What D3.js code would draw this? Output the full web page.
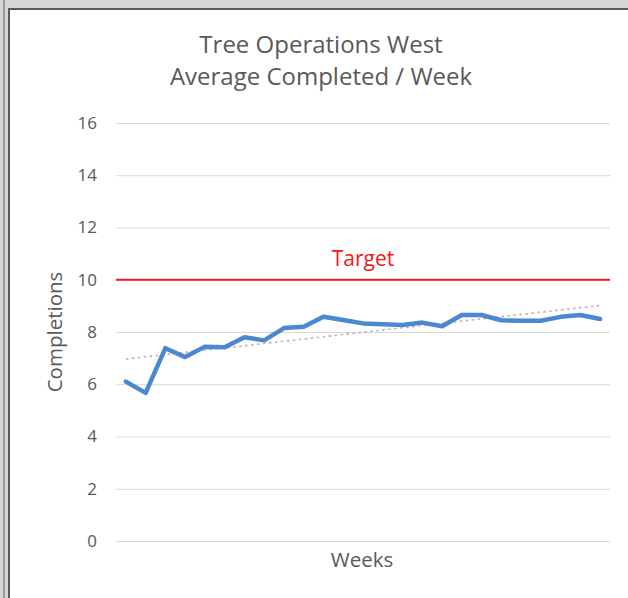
<!DOCTYPE html>
<html>
<head>
<meta charset="utf-8">
<script src="https://cdn.jsdelivr.net/npm/d3@7"></script>
<style>
    body { margin: 0; background: #fff; }
    #chart { width: 628px; height: 598px; }
    text { font-family: "Open Sans", "Noto Sans", sans-serif; fill: #595959; }
</style>
</head>
<body>
<div id="chart"></div>
<script>
(function () {

    const TITLE = ["Tree Operations West", "Average Completed / Week"];
    const WEEKS = d3.range(1, 26);
    const AVERAGE = [6.1, 5.67, 7.38, 7.04, 7.44, 7.42, 7.8, 7.68, 8.15, 8.2, 8.58, 8.46, 8.33, 8.3, 8.27, 8.36, 8.22, 8.65, 8.65, 8.45, 8.43, 8.43, 8.58, 8.65, 8.5];
    const TARGET = 10;
    const Y_TICKS = [0, 2, 4, 6, 8, 10, 12, 14, 16];

    const width = 628, height = 598;
    const plot = { left: 116, right: 610, top: 123, bottom: 541 };

    const svg = d3.select("#chart")
        .append("svg")
        .attr("width", width)
        .attr("height", height);

    // window frame from the screenshot
    svg.append("rect").attr("x", 0).attr("y", 0).attr("width", width).attr("height", 8).attr("fill", "#d6d6d6");
    svg.append("rect").attr("x", 0).attr("y", 0).attr("width", 8).attr("height", height).attr("fill", "#d6d6d6");
    svg.append("rect").attr("x", 3).attr("y", 0).attr("width", 2).attr("height", height).attr("fill", "#9a9a9a");
    svg.append("rect").attr("x", 8).attr("y", 8).attr("width", width).attr("height", 2).attr("fill", "#5a5a5a");
    svg.append("rect").attr("x", 8).attr("y", 8).attr("width", 2).attr("height", height).attr("fill", "#5a5a5a");

    const xScale = d3.scalePoint()
        .domain(WEEKS)
        .range([plot.left, plot.right])
        .padding(0.5);

    const yScale = d3.scaleLinear()
        .domain([0, 16])
        .range([plot.bottom, plot.top]);

    // gridlines + tick labels
    const yAxis = svg.append("g")
        .attr("transform", `translate(${plot.left},0)`)
        .call(d3.axisLeft(yScale)
            .tickValues(Y_TICKS)
            .tickSize(-(plot.right - plot.left))
            .tickPadding(19));
    yAxis.select(".domain").remove();
    yAxis.selectAll(".tick line").attr("stroke", "#d9d9d9").attr("stroke-width", 1);
    yAxis.selectAll(".tick text")
        .style("fill", "#595959")
        .style("font-size", "17px");

    // linear trendline (least squares over the weekly averages)
    const n = AVERAGE.length;
    const mx = d3.mean(WEEKS), my = d3.mean(AVERAGE);
    const slope = d3.sum(WEEKS, (w, i) => (w - mx) * (AVERAGE[i] - my)) / d3.sum(WEEKS, w => (w - mx) ** 2);
    const icpt = my - slope * mx;
    svg.append("line")
        .attr("x1", xScale(WEEKS[0]))
        .attr("y1", yScale(icpt + slope * WEEKS[0]))
        .attr("x2", xScale(WEEKS[n - 1]))
        .attr("y2", yScale(icpt + slope * WEEKS[n - 1]))
        .attr("stroke", "#cfa3b8")
        .attr("stroke-width", 1.6)
        .attr("stroke-dasharray", "2.5,3.5");

    // target line
    svg.append("line")
        .attr("x1", plot.left)
        .attr("x2", plot.right)
        .attr("y1", yScale(TARGET))
        .attr("y2", yScale(TARGET))
        .attr("stroke", "#f01820")
        .attr("stroke-width", 2);

    svg.append("text")
        .attr("x", (plot.left + plot.right) / 2)
        .attr("y", yScale(TARGET) - 14)
        .attr("text-anchor", "middle")
        .style("fill", "#f01820")
        .style("font-size", "21px")
        .text("Target");

    // weekly average line
    const line = d3.line()
        .x((d, i) => xScale(WEEKS[i]))
        .y(d => yScale(d));

    svg.append("path")
        .datum(AVERAGE)
        .attr("d", line)
        .attr("fill", "none")
        .attr("stroke", "#4a88d2")
        .attr("stroke-width", 4.5)
        .attr("stroke-linejoin", "round")
        .attr("stroke-linecap", "round");

    // titles
    svg.append("g")
        .selectAll("text")
        .data(TITLE)
        .enter()
        .append("text")
        .attr("x", 321)
        .attr("y", (d, i) => 53 + i * 32)
        .attr("text-anchor", "middle")
        .style("font-size", "24px")
        .text(d => d);

    svg.append("text")
        .attr("x", 362)
        .attr("y", 567)
        .attr("text-anchor", "middle")
        .style("font-size", "20.5px")
        .text("Weeks");

    svg.append("text")
        .attr("transform", "translate(62,332)rotate(-90)")
        .attr("text-anchor", "middle")
        .style("font-size", "20.5px")
        .text("Completions");

})()
</script>
</body>
</html>
